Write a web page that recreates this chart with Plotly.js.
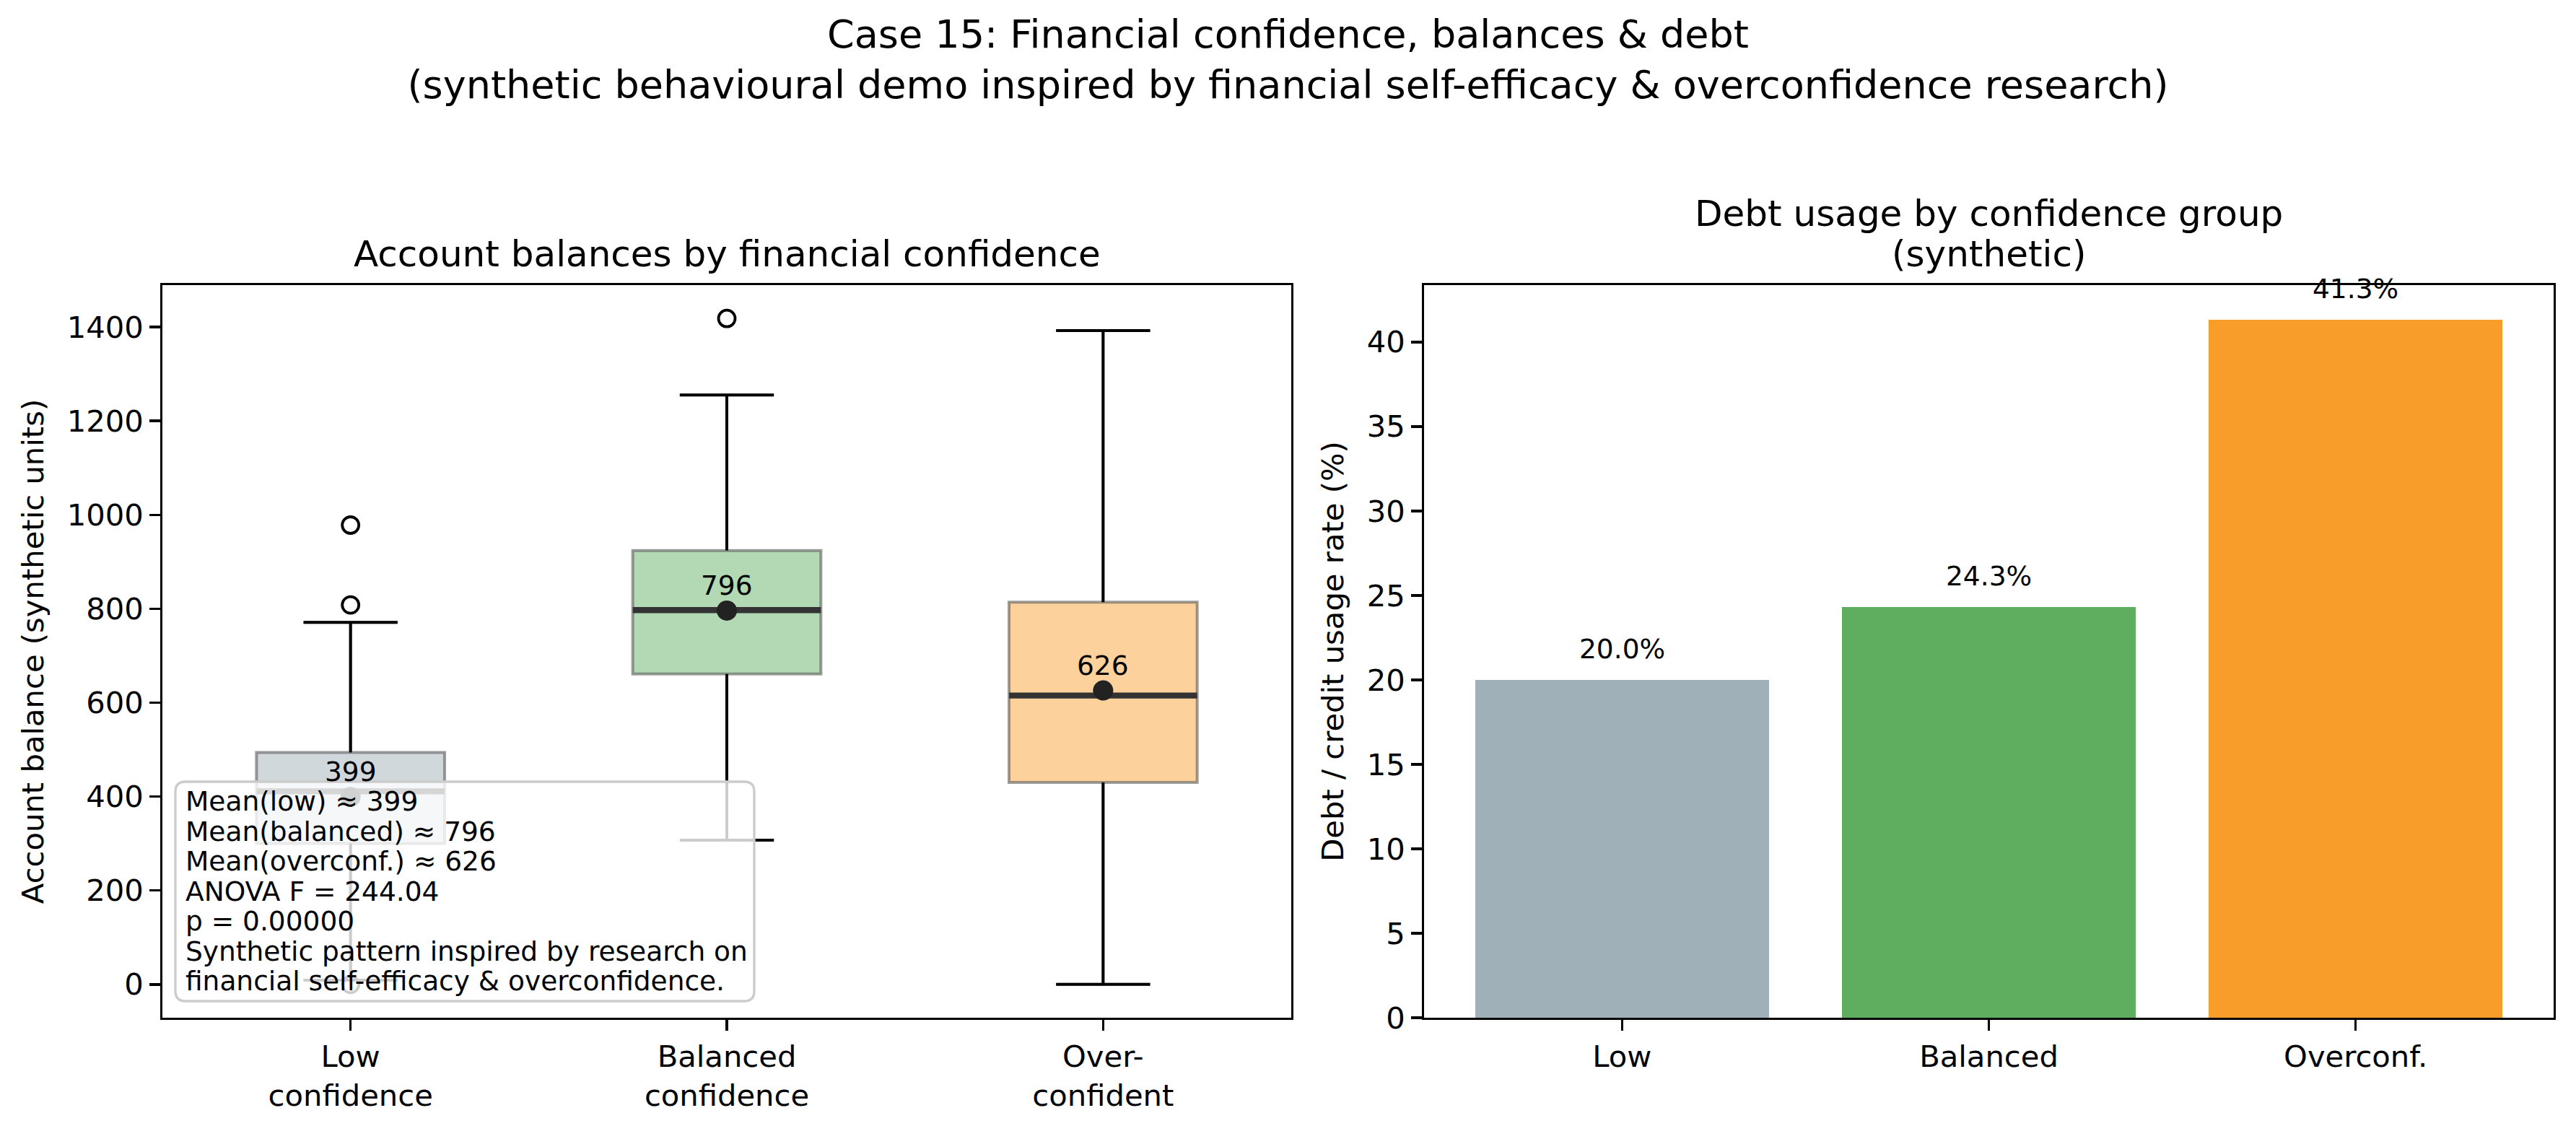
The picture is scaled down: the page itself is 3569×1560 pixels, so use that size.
<!DOCTYPE html>
<html>
<head>
<meta charset="utf-8">
<script src="https://cdn.plot.ly/plotly-3.0.1.min.js"></script>
<style>html,body{margin:0;padding:0;background:#fff;}</style>
</head>
<body>
<div id="chart" style="width:3569px;height:1560px;"></div>
<script>
// ---------- data ----------
const boxPositions = [1, 2, 3];
const boxTickLabels = ['Low<br>confidence', 'Balanced<br>confidence', 'Over-<br>confident'];
const q1 = [300, 661, 430];
const medians = [411, 797, 615];
const q3 = [494, 924, 814];
const lowerWhisker = [9, 307, 0];
const upperWhisker = [771, 1255, 1392];
const means = [399, 796, 626];
const meanLabels = ['399', '796', '626'];
const flierGroupX = [1, 1, 1, 2];
const flierValues = [0, 808, 978, 1418];
const boxFills = ['#d1d8dc', '#b2d9b3', '#fdd19c'];

const debtGroups = ['Low', 'Balanced', 'Overconf.'];
const debtRates = [20.0, 24.3, 41.3];
const debtLabels = ['20.0%', '24.3%', '41.3%'];
const barColors = ['#a0b0b8', '#5fae60', '#f99d2a'];

const statsLines = [
  'Mean(low) ≈ 399',
  'Mean(balanced) ≈ 796',
  'Mean(overconf.) ≈ 626',
  'ANOVA F = 244.04',
  'p = 0.00000',
  'Synthetic pattern inspired by research on',
  'financial self-efficacy & overconfidence.'
];

// ---------- layout constants ----------
const W = 3569, H = 1560;
const FONT = 'DejaVu Sans';
const TICK = 41.7;
const SMALL = 37.5;
const px = v => v / W;
const py = v => 1 - v / H;

const traces = [];

// box bodies
for (let i = 0; i < boxPositions.length; i++) {
  traces.push({
    type: 'box',
    x: [boxPositions[i]],
    q1: [q1[i]], median: [medians[i]], q3: [q3[i]],
    lowerfence: [lowerWhisker[i]], upperfence: [upperWhisker[i]],
    width: 0.5,
    whiskerwidth: 0.5,
    fillcolor: boxFills[i],
    line: {color: 'rgba(90,90,90,0.6)', width: 4},
    boxpoints: false,
    hoverinfo: 'skip',
    xaxis: 'x', yaxis: 'y',
    showlegend: false
  });
}

// whiskers and caps (black)
const wx = [], wy = [];
for (let i = 0; i < boxPositions.length; i++) {
  const p = boxPositions[i];
  wx.push(p, p, null, p, p, null, p - 0.125, p + 0.125, null, p - 0.125, p + 0.125, null);
  wy.push(lowerWhisker[i], q1[i], null, q3[i], upperWhisker[i], null,
          lowerWhisker[i], lowerWhisker[i], null, upperWhisker[i], upperWhisker[i], null);
}
traces.push({type: 'scatter', mode: 'lines', x: wx, y: wy,
  line: {color: '#000', width: 4}, xaxis: 'x', yaxis: 'y', showlegend: false, hoverinfo: 'skip'});

// medians
const mx = [], my = [];
for (let i = 0; i < boxPositions.length; i++) {
  const p = boxPositions[i];
  mx.push(p - 0.25, p + 0.25, null);
  my.push(medians[i], medians[i], null);
}
traces.push({type: 'scatter', mode: 'lines', x: mx, y: my,
  line: {color: '#333333', width: 8.3}, xaxis: 'x', yaxis: 'y', showlegend: false, hoverinfo: 'skip'});

// fliers
traces.push({type: 'scatter', mode: 'markers', x: flierGroupX, y: flierValues,
  marker: {symbol: 'circle-open', size: 23, color: '#000', line: {width: 3.8, color: '#000'}},
  xaxis: 'x', yaxis: 'y', showlegend: false, hoverinfo: 'skip'});

// means
traces.push({type: 'scatter', mode: 'markers', x: boxPositions, y: means,
  marker: {symbol: 'circle', size: 28, color: '#222222'},
  xaxis: 'x', yaxis: 'y', showlegend: false, hoverinfo: 'skip'});

// bars
traces.push({type: 'bar', x: [0, 1, 2], y: debtRates, width: 0.8,
  marker: {color: barColors, line: {width: 0}},
  xaxis: 'x2', yaxis: 'y2', showlegend: false, hoverinfo: 'skip'});

const annotations = [];
// mean labels
for (let i = 0; i < boxPositions.length; i++) {
  annotations.push({xref: 'x', yref: 'y', x: boxPositions[i], y: means[i],
    text: meanLabels[i], showarrow: false, yanchor: 'bottom', yshift: 11,
    font: {family: FONT, size: SMALL, color: '#000'}});
}
// bar labels
for (let i = 0; i < debtRates.length; i++) {
  annotations.push({xref: 'x2', yref: 'y2', x: i, y: debtRates[i],
    text: debtLabels[i], showarrow: false, yanchor: 'bottom', yshift: 19,
    font: {family: FONT, size: SMALL, color: '#000'}});
}
// subplot titles
annotations.push({xref: 'x domain', yref: 'paper', x: 0.5, y: py(395),
  text: 'Account balances by financial confidence', showarrow: false,
  xanchor: 'center', yanchor: 'bottom', yshift: 12,
  font: {family: FONT, size: 50, color: '#000'}});
annotations.push({xref: 'x2 domain', yref: 'paper', x: 0.5, y: py(395),
  text: '(synthetic)', showarrow: false,
  xanchor: 'center', yanchor: 'bottom', yshift: 12,
  font: {family: FONT, size: 50, color: '#000'}});
annotations.push({xref: 'x2 domain', yref: 'paper', x: 0.5, y: py(395),
  text: 'Debt usage by confidence group', showarrow: false,
  xanchor: 'center', yanchor: 'bottom', yshift: 12 + 56,
  font: {family: FONT, size: 50, color: '#000'}});

// stats box lines
for (let k = 0; k < statsLines.length; k++) {
  annotations.push({xref: 'paper', yref: 'paper', x: px(255), y: py(1110 + 41.5 * k),
    xanchor: 'left', yanchor: 'middle', align: 'left', showarrow: false,
    text: statsLines[k], font: {family: FONT, size: SMALL, color: '#000'}});
}

// rounded background for stats box
const bx0 = 243, bx1 = 1045, by0 = 1083, by1 = 1387, r = 14;
const P = (x, y) => px(x) + ',' + py(y);
const roundRect = 'M ' + P(bx0 + r, by0) + ' L ' + P(bx1 - r, by0) + ' Q ' + P(bx1, by0) + ' ' + P(bx1, by0 + r) +
  ' L ' + P(bx1, by1 - r) + ' Q ' + P(bx1, by1) + ' ' + P(bx1 - r, by1) +
  ' L ' + P(bx0 + r, by1) + ' Q ' + P(bx0, by1) + ' ' + P(bx0, by1 - r) +
  ' L ' + P(bx0, by0 + r) + ' Q ' + P(bx0, by0) + ' ' + P(bx0 + r, by0) + ' Z';

const axisCommon = {
  showline: true, mirror: true, linecolor: '#000', linewidth: 3.3,
  ticks: 'outside', ticklen: 14.6, tickwidth: 3.3, tickcolor: '#000',
  showgrid: false, zeroline: false,
  tickfont: {family: FONT, size: TICK, color: '#000'}
};

const layout = {
  width: W, height: H,
  margin: {l: 0, r: 0, t: 0, b: 0},
  paper_bgcolor: '#fff', plot_bgcolor: '#fff',
  font: {family: FONT, color: '#000'},
  showlegend: false,
  title: {
    text: 'Case 15: Financial confidence, balances & debt<br>(synthetic behavioural demo inspired by financial self-efficacy & overconfidence research)',
    x: 0.5, xanchor: 'center', y: 1 - 66 / H, yanchor: 'top', yref: 'container',
    font: {family: FONT, size: 54, color: '#000'}
  },
  xaxis: Object.assign({}, axisCommon, {
    domain: [px(225), px(1789)], range: [0.5, 3.5],
    tickmode: 'array', tickvals: boxPositions, ticktext: boxTickLabels, anchor: 'y'
  }),
  yaxis: Object.assign({}, axisCommon, {
    domain: [py(1410), py(395)], range: [-70.9, 1489],
    tickmode: 'linear', tick0: 0, dtick: 200, anchor: 'x',
    title: {text: 'Account balance (synthetic units)', font: {family: FONT, size: TICK, color: '#000'}, standoff: 20}
  }),
  xaxis2: Object.assign({}, axisCommon, {
    domain: [px(1973), px(3538)], range: [-0.54, 2.54],
    tickmode: 'array', tickvals: [0, 1, 2], ticktext: debtGroups, anchor: 'y2'
  }),
  yaxis2: Object.assign({}, axisCommon, {
    domain: [py(1410), py(395)], range: [0, 43.37],
    tickmode: 'linear', tick0: 0, dtick: 5, anchor: 'x2',
    title: {text: 'Debt / credit usage rate (%)', font: {family: FONT, size: TICK, color: '#000'}, standoff: 20}
  }),
  shapes: [{
    type: 'path', xref: 'paper', yref: 'paper', path: roundRect, layer: 'above',
    fillcolor: 'rgba(255,255,255,0.8)', line: {color: 'rgba(204,204,204,1)', width: 3.3}
  }],
  annotations: annotations,
  bargap: 0
};

Plotly.newPlot('chart', traces, layout, {staticPlot: true, displayModeBar: false});
</script>
</body>
</html>
